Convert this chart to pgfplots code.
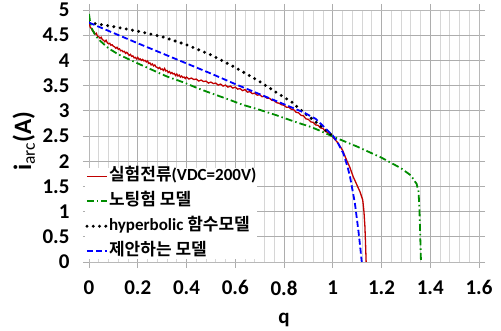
\documentclass[border=0pt]{standalone}
\usepackage{fontspec}
\setmainfont{Carlito}
\newfontfamily\cjk{Noto Sans CJK KR}[BoldFont={Noto Sans CJK KR Bold}]
\usepackage{pgfplots}
\pgfplotsset{compat=1.18}
\definecolor{cred}{RGB}{192,0,0}
\definecolor{cgreen}{RGB}{0,140,0}
\definecolor{cblue}{RGB}{0,0,255}
\begin{document}
\begin{tikzpicture}
\path[use as bounding box] (0,0) rectangle (501bp,331bp);
\begin{axis}[
  at={(89bp,69bp)}, anchor=south west, scale only axis,
  width=390bp, height=252bp,
  xmin=0, xmax=1.6, ymin=0, ymax=5,
  xtick={0,0.2,0.4,0.6,0.8,1,1.2,1.4,1.6},
  xticklabels={0,0.2,0.4,0.6,0.8,1,1.2,1.4,1.6},
  ytick={0,0.5,1,1.5,2,2.5,3,3.5,4,4.5,5},
  yticklabels={0,0.5,1,1.5,2,2.5,3,3.5,4,4.5,5},
  minor x tick num=4,
  grid=both,
  major grid style={color=black!32, line width=0.7bp},
  minor grid style={color=black!16, line width=0.7bp},
  axis line style={color=black!28, line width=0.8bp},
  tick align=outside, major tick length=6bp, minor tick length=0pt,
  tick style={color=black!32, line width=0.7bp},
  /pgf/number format/assume math mode=true,
  ticklabel style={font=\fontsize{21bp}{23bp}\selectfont\bfseries},
  xticklabel style={yshift=-9bp},
  yticklabel style={xshift=-10bp},
  xlabel={\bfseries q},
  ylabel={\bfseries i\textsubscript{\mdseries arc}(A)},
  every axis x label/.style={at={(axis description cs:0.5,-0.230)}, anchor=center, font=\fontsize{21bp}{23bp}\selectfont},
  every axis y label/.style={at={(axis description cs:-0.167,0.48)}, anchor=center, rotate=90, font=\fontsize{25bp}{27bp}\selectfont},
  legend style={at={(axis description cs:-0.01,0.373)}, anchor=north west, draw=none, fill=white,
    font=\fontsize{17bp}{20bp}\selectfont\bfseries, inner sep=0bp, row sep=9bp,
    nodes={inner sep=0.5bp, text height=12bp, text depth=3bp}},
  legend cell align=left,
  legend image code/.code={\draw[#1] (0bp,0bp) -- (20bp,0bp);},
]
\addplot[color=cred, line width=1.3bp] coordinates {
(0.000,4.74) (0.005,4.66) (0.010,4.63) (0.015,4.58) (0.020,4.57) (0.025,4.52) (0.030,4.54)
(0.035,4.48) (0.040,4.47) (0.045,4.44) (0.050,4.46) (0.055,4.41) (0.060,4.40) (0.065,4.37)
(0.070,4.40) (0.075,4.35) (0.080,4.33) (0.085,4.34) (0.090,4.30) (0.095,4.31) (0.100,4.28)
(0.105,4.27) (0.110,4.24) (0.115,4.26) (0.120,4.22) (0.125,4.23) (0.130,4.19) (0.135,4.20)
(0.140,4.17) (0.145,4.18) (0.150,4.14) (0.155,4.16) (0.160,4.13) (0.165,4.10) (0.170,4.12)
(0.175,4.08) (0.180,4.09) (0.185,4.05) (0.190,4.06) (0.195,4.03) (0.200,4.06) (0.205,4.02)
(0.210,4.03) (0.215,4.00) (0.220,4.02) (0.225,3.99) (0.230,4.00) (0.235,3.97) (0.240,3.99)
(0.245,3.94) (0.250,3.95) (0.255,3.91) (0.260,3.93) (0.265,3.89) (0.270,3.91) (0.275,3.87)
(0.280,3.86) (0.285,3.84) (0.290,3.86) (0.295,3.82) (0.300,3.83) (0.305,3.80) (0.310,3.84)
(0.315,3.79) (0.320,3.80) (0.325,3.76) (0.330,3.78) (0.335,3.74) (0.340,3.76) (0.345,3.73)
(0.350,3.74) (0.355,3.70) (0.360,3.73) (0.365,3.69) (0.370,3.71) (0.375,3.67) (0.380,3.69)
(0.385,3.66) (0.390,3.67) (0.395,3.64) (0.400,3.67) (0.41,3.63) (0.42,3.65) (0.43,3.62)
(0.44,3.63) (0.45,3.59) (0.46,3.61) (0.47,3.58) (0.48,3.59) (0.49,3.55) (0.50,3.57)
(0.51,3.54) (0.52,3.55) (0.53,3.51) (0.54,3.53) (0.55,3.49) (0.56,3.51) (0.57,3.47)
(0.58,3.49) (0.59,3.45) (0.60,3.47) (0.61,3.43) (0.62,3.44) (0.63,3.40) (0.64,3.42)
(0.65,3.37) (0.66,3.38) (0.67,3.34) (0.68,3.35) (0.69,3.31) (0.70,3.32) (0.71,3.28)
(0.72,3.29) (0.73,3.25) (0.74,3.25) (0.75,3.21) (0.76,3.20) (0.77,3.16) (0.78,3.15)
(0.79,3.12) (0.80,3.11) (0.81,3.07) (0.82,3.07) (0.83,3.03) (0.84,3.02) (0.85,2.97)
(0.86,2.96) (0.87,2.91) (0.88,2.90) (0.89,2.84) (0.90,2.83) (0.91,2.78) (0.92,2.77)
(0.93,2.72) (0.94,2.71) (0.95,2.66) (0.96,2.65) (0.97,2.59) (0.98,2.57) (0.99,2.52)
(1.00,2.48) (1.02,2.37) (1.04,2.22) (1.057,2.02) (1.07,1.88) (1.084,1.69) (1.10,1.52)
(1.112,1.39) (1.123,1.23) (1.128,1.00) (1.132,0.70) (1.135,0.30) (1.137,0)
};
\addlegendentry{{\cjk 실험전류}(VDC=200V)}
\addplot[color=cgreen, line width=1.8bp, dash pattern=on 7bp off 3bp on 1.5bp off 3bp] coordinates {
(0,4.92) (0.005,4.75) (0.01,4.65) (0.02,4.55) (0.03,4.47) (0.05,4.37) (0.08,4.24)
(0.12,4.12) (0.16,4.03) (0.20,3.94) (0.26,3.81) (0.32,3.68) (0.39,3.56) (0.45,3.44)
(0.50,3.35) (0.57,3.23) (0.63,3.12) (0.70,3.02) (0.77,2.91) (0.84,2.79) (0.91,2.68)
(0.95,2.60) (1.00,2.49) (1.10,2.29) (1.20,2.07) (1.28,1.86) (1.32,1.72) (1.344,1.55)
(1.352,1.40) (1.356,1.00) (1.359,0.50) (1.362,0)
};
\addlegendentry{{\cjk 노팅험 모델}}
\addplot[color=black, line width=3.3bp, line cap=round, dash pattern=on 0bp off 6.3bp] coordinates {
(0,4.75) (0.1,4.67) (0.2,4.58) (0.3,4.47) (0.4,4.31) (0.5,4.11) (0.6,3.86) (0.7,3.58)
(0.77,3.36) (0.83,3.18) (0.88,2.97) (0.93,2.78) (0.96,2.66) (1.0,2.50)
};
\addlegendentry{hyperbolic {\cjk 함수모델}}
\addplot[color=cblue, line width=1.8bp, dash pattern=on 6bp off 3bp] coordinates {
(0,4.75) (0.2,4.34) (0.4,3.94) (0.5,3.74) (0.6,3.53) (0.7,3.33) (0.8,3.13) (0.88,2.97)
(0.93,2.84) (0.96,2.70) (1.0,2.51) (1.02,2.37) (1.043,2.16) (1.06,1.90) (1.071,1.69)
(1.082,1.40) (1.091,1.16) (1.105,0.63) (1.112,0.33) (1.119,0)
};
\addlegendentry{{\cjk 제안하는 모델}}
\end{axis}
\end{tikzpicture}
\end{document}
